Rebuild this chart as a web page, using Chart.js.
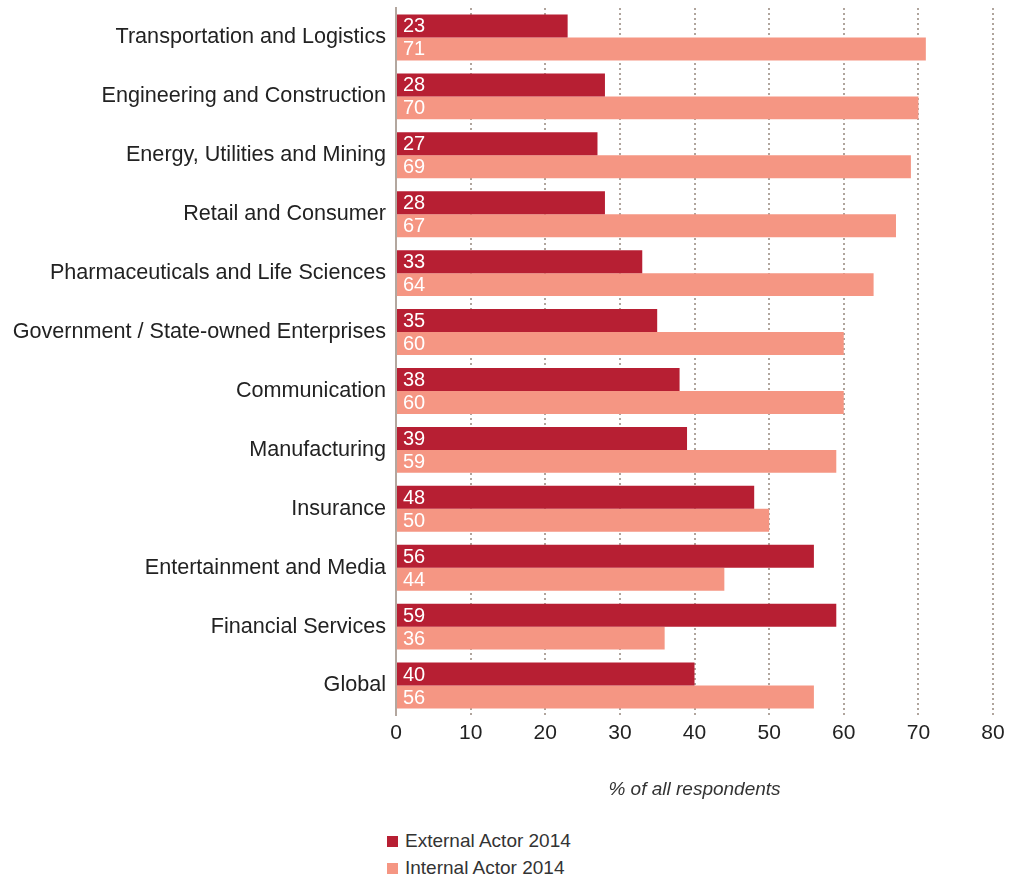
<!DOCTYPE html>
<html>
<head>
<meta charset="utf-8">
<script src="https://cdn.jsdelivr.net/npm/chart.js@4"></script>
<style>
  body { margin: 0; background: #fff; font-family: "Liberation Sans", Arial, sans-serif; }
  #wrap { position: relative; width: 1012px; height: 810px; }
  #legend { padding-left: 387px; margin-top: 19px; color: #333; font-size: 19px; }
  #legend div { height: 27px; line-height: 24px; }
  #legend span { display: inline-block; width: 11px; height: 11px; margin-right: 7px; vertical-align: 0px; }
</style>
</head>
<body>
<div id="wrap"><canvas id="chart"></canvas></div>
<div id="legend"></div>
<script>
const industries = [
    'Transportation and Logistics',
    'Engineering and Construction',
    'Energy, Utilities and Mining',
    'Retail and Consumer',
    'Pharmaceuticals and Life Sciences',
    'Government / State-owned Enterprises',
    'Communication',
    'Manufacturing',
    'Insurance',
    'Entertainment and Media',
    'Financial Services',
    'Global'
]
const externalActor = [23, 28, 27, 28, 33, 35, 38, 39, 48, 56, 59, 40]
const internalActor = [71, 70, 69, 67, 64, 60, 60, 59, 50, 44, 36, 56]
const seriesNames = ['External Actor 2014', 'Internal Actor 2014']
const xTicks = [0, 10, 20, 30, 40, 50, 60, 70, 80]

const colors = ['#b71f33', '#f59683']
const font = '"Liberation Sans", Arial, sans-serif'

// white numbers at the start of each bar
const valueLabels = {
    id: 'valueLabels',
    afterDatasetsDraw(chart) {
        const ctx = chart.ctx
        ctx.save()
        ctx.font = '20px ' + font
        ctx.fillStyle = '#fff'
        ctx.textBaseline = 'middle'
        chart.data.datasets.forEach((ds, i) => {
            chart.getDatasetMeta(i).data.forEach((bar, j) => {
                ctx.fillText(ds.data[j], bar.base + 6, bar.y + 1)
            })
        })
        ctx.restore()
    }
}

new Chart(document.getElementById('chart'), {
    type: 'bar',
    data: {
        labels: industries,
        datasets: [
            { label: seriesNames[0], data: externalActor, backgroundColor: colors[0], borderWidth: 0 },
            { label: seriesNames[1], data: internalActor, backgroundColor: colors[1], borderWidth: 0 }
        ]
    },
    options: {
        indexAxis: 'y',
        responsive: true,
        maintainAspectRatio: false,
        animation: false,
        layout: { padding: { top: 8, right: 19, bottom: 9, left: 0 } },
        categoryPercentage: 0.78,
        barPercentage: 1.0,
        plugins: {
            legend: { display: false },
            tooltip: { enabled: false }
        },
        scales: {
            x: {
                min: 0,
                max: 80,
                afterBuildTicks: (scale) => {
                    scale.ticks = xTicks.map(v => ({ value: v }))
                },
                ticks: {
                    padding: 6,
                    color: '#222',
                    font: { family: font, size: 21 }
                },
                grid: {
                    drawTicks: false,
                    lineWidth: 2,
                    color: (c) => c.index === 0 ? 'rgba(0,0,0,0)' : '#b0a59d'
                },
                border: { display: false, dash: [2, 3] },
                title: {
                    display: true,
                    text: '% of all respondents',
                    color: '#333',
                    padding: { top: 26, bottom: 0 },
                    font: { family: font, size: 19, style: 'italic' }
                }
            },
            y: {
                afterFit: (scale) => {
                    scale.width = 396
                    scale.paddingTop = 0
                    scale.paddingBottom = 0
                },
                ticks: {
                    padding: 10,
                    color: '#222',
                    font: { family: font, size: 21.6 }
                },
                grid: { display: false, drawTicks: false },
                border: { display: true, color: '#b3a79f', width: 2 }
            }
        }
    },
    plugins: [valueLabels]
})

const legend = document.getElementById('legend')
seriesNames.forEach((name, i) => {
    const row = document.createElement('div')
    const box = document.createElement('span')
    box.style.background = colors[i]
    row.appendChild(box)
    row.appendChild(document.createTextNode(name))
    legend.appendChild(row)
})
</script>
</body>
</html>
